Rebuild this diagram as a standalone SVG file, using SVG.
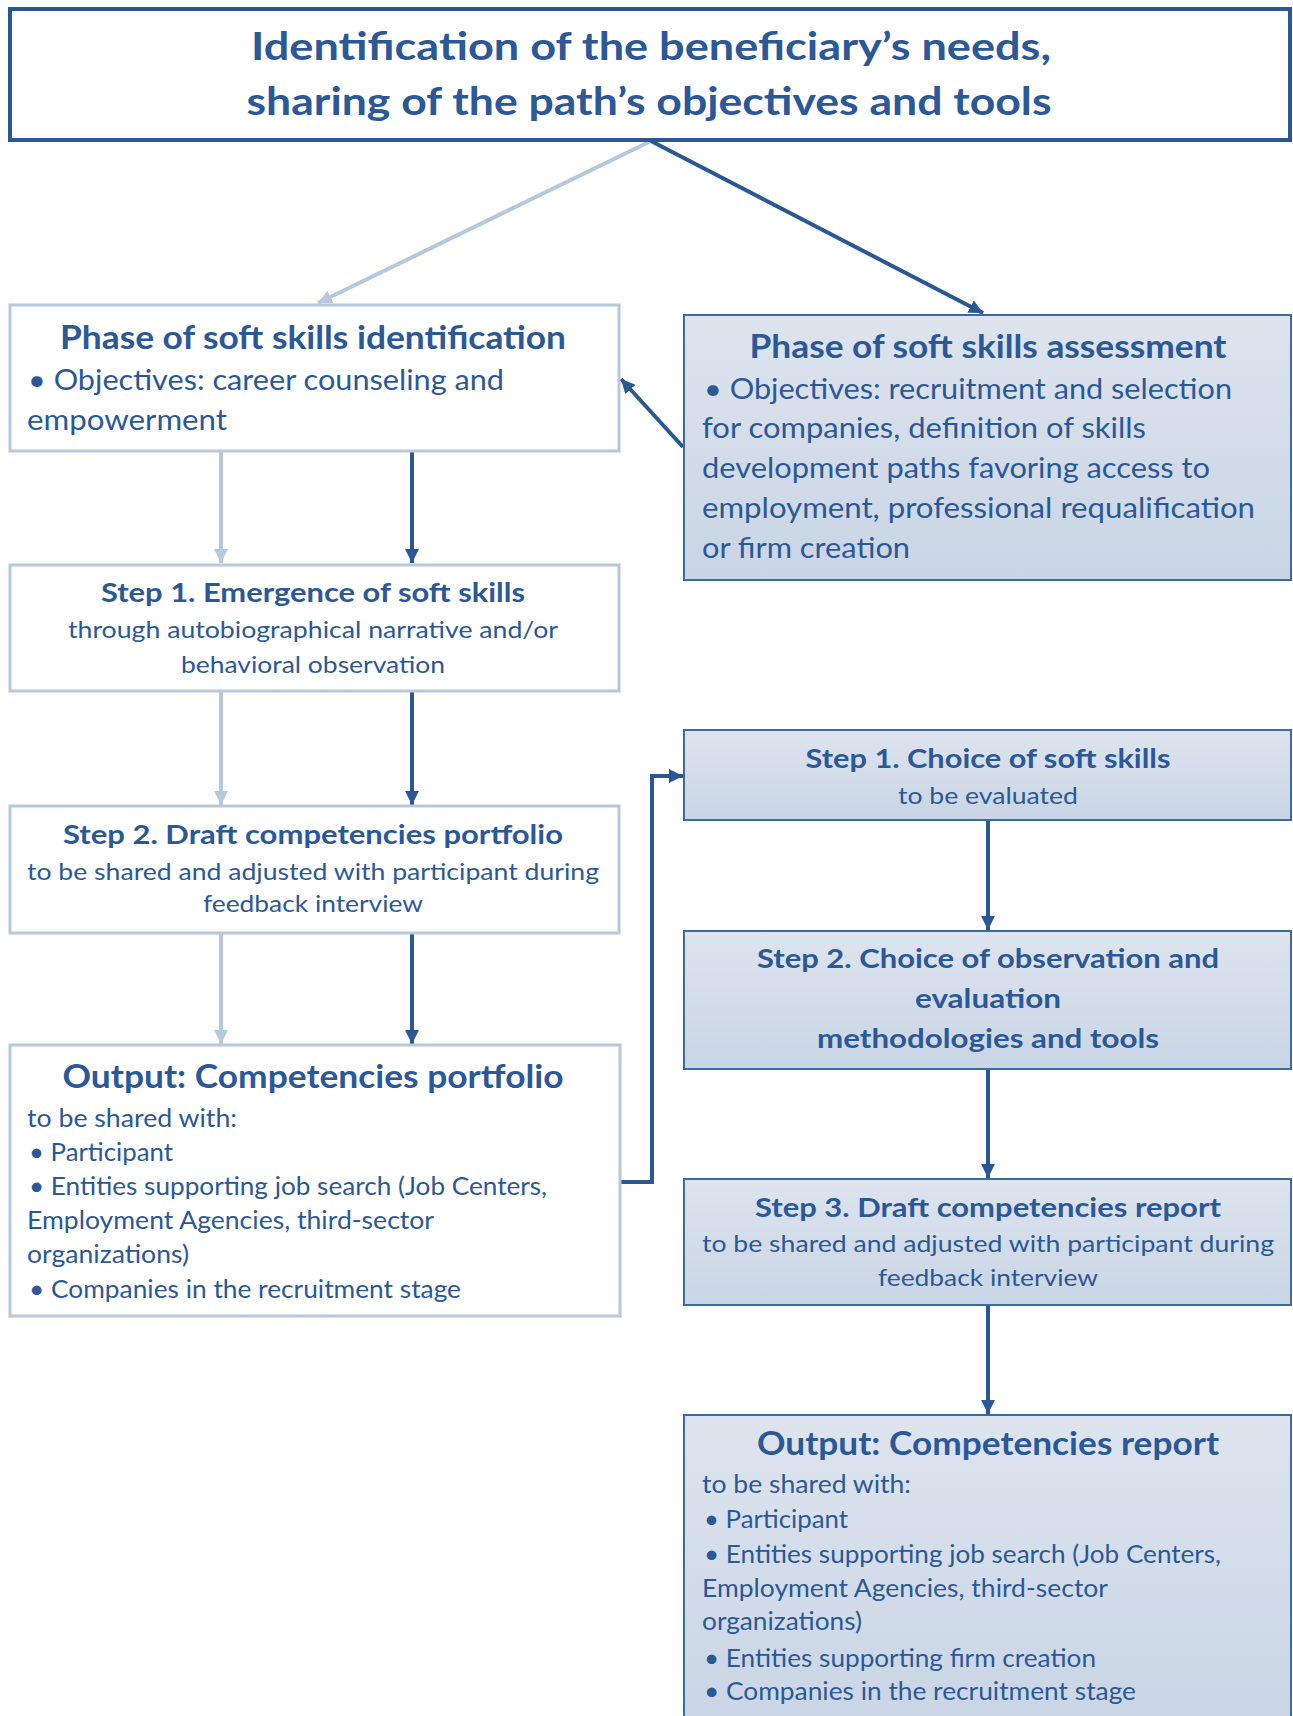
<svg xmlns="http://www.w3.org/2000/svg" width="1293" height="1716" viewBox="0 0 1293 1716">
<defs>
<linearGradient id="gr" x1="0" y1="0" x2="0" y2="1">
<stop offset="0" stop-color="#dde4ee"/>
<stop offset="1" stop-color="#c9d5e5"/>
</linearGradient>
<marker id="ad" viewBox="0 0 10 10" refX="10" refY="5" markerWidth="14" markerHeight="14" markerUnits="userSpaceOnUse" orient="auto">
<path d="M0,0 L10,5 L0,10 z" fill="#2b5893"/>
</marker>
<marker id="al" viewBox="0 0 10 10" refX="10" refY="5" markerWidth="14" markerHeight="14" markerUnits="userSpaceOnUse" orient="auto">
<path d="M0,0 L10,5 L0,10 z" fill="#b7c8dc"/>
</marker>
<style>
text{font-family:Lato,"Open Sans","Liberation Sans",sans-serif;fill:#2c5895}
.t{font-size:39px;font-weight:bold}
.h1{font-size:33px;font-weight:bold}
.h2{font-size:27px;font-weight:bold}
.ho{font-size:32px;font-weight:bold}
.b{font-size:28px}
.s{font-size:23px}
.o{font-size:25px}
.c{text-anchor:middle}
.wl{fill:#fff;stroke:#b7c8dc;stroke-width:3}
.bl{fill:url(#gr);stroke:#3e6aa2;stroke-width:2}
.dk{stroke:#2b5893;stroke-width:4;fill:none}
.lt{stroke:#b7c8dc;stroke-width:4;fill:none}
</style>
</defs>
<rect width="1293" height="1716" fill="#fff"/>

<g id="connectors">
<line class="lt" x1="651" y1="141" x2="318" y2="303" marker-end="url(#al)"/>
<line class="dk" x1="651" y1="141" x2="983" y2="313" marker-end="url(#ad)"/>
<line class="dk" x1="683" y1="447" x2="621" y2="379" marker-end="url(#ad)"/>
<line class="lt" x1="221" y1="452" x2="221" y2="563" marker-end="url(#al)"/>
<line class="dk" x1="412" y1="452" x2="412" y2="563" marker-end="url(#ad)"/>
<line class="lt" x1="221" y1="692" x2="221" y2="805" marker-end="url(#al)"/>
<line class="dk" x1="412" y1="692" x2="412" y2="805" marker-end="url(#ad)"/>
<line class="lt" x1="221" y1="934" x2="221" y2="1044" marker-end="url(#al)"/>
<line class="dk" x1="412" y1="934" x2="412" y2="1044" marker-end="url(#ad)"/>
<polyline class="dk" points="620,1182 652,1182 652,776 683,776" marker-end="url(#ad)"/>
<line class="dk" x1="988" y1="821" x2="988" y2="930" marker-end="url(#ad)"/>
<line class="dk" x1="988" y1="1070" x2="988" y2="1178" marker-end="url(#ad)"/>
<line class="dk" x1="988" y1="1306" x2="988" y2="1414" marker-end="url(#ad)"/>
</g>

<g id="node-top">
<rect x="10" y="9" width="1280" height="131" fill="#fff" stroke="#2b5893" stroke-width="4"/>
<text class="t c" x="651" y="60" textLength="800" lengthAdjust="spacingAndGlyphs">Identification of the beneficiary’s needs,</text>
<text class="t c" x="649" y="115" textLength="805" lengthAdjust="spacingAndGlyphs">sharing of the path’s objectives and tools</text>
</g>

<g id="node-phase-identification">
<rect class="wl" x="10" y="305" width="609" height="146"/>
<text class="h1 c" x="313" y="349" textLength="506" lengthAdjust="spacingAndGlyphs">Phase of soft skills identification</text>
<text class="b" x="28" y="390" textLength="476" lengthAdjust="spacingAndGlyphs">• Objectives: career counseling and</text>
<text class="b" x="27" y="430" textLength="200" lengthAdjust="spacingAndGlyphs">empowerment</text>
</g>

<g id="node-phase-assessment">
<rect class="bl" x="684" y="315" width="607" height="265" stroke-width="3"/>
<text class="h1 c" x="988" y="358" textLength="477" lengthAdjust="spacingAndGlyphs">Phase of soft skills assessment</text>
<text class="b" x="704" y="399" textLength="528" lengthAdjust="spacingAndGlyphs">• Objectives: recruitment and selection</text>
<text class="b" x="702" y="438" textLength="444" lengthAdjust="spacingAndGlyphs">for companies, definition of skills</text>
<text class="b" x="702" y="478" textLength="508" lengthAdjust="spacingAndGlyphs">development paths favoring access to</text>
<text class="b" x="702" y="518" textLength="553" lengthAdjust="spacingAndGlyphs">employment, professional requalification</text>
<text class="b" x="702" y="558" textLength="208" lengthAdjust="spacingAndGlyphs">or firm creation</text>
</g>

<g id="node-step1-emergence">
<rect class="wl" x="10" y="565" width="609" height="126"/>
<text class="h2 c" x="313" y="602" textLength="424" lengthAdjust="spacingAndGlyphs">Step 1. Emergence of soft skills</text>
<text class="s c" x="313" y="638" textLength="490" lengthAdjust="spacingAndGlyphs">through autobiographical narrative and/or</text>
<text class="s c" x="313" y="673" textLength="264" lengthAdjust="spacingAndGlyphs">behavioral observation</text>
</g>

<g id="node-step2-draft-portfolio">
<rect class="wl" x="10" y="806" width="609" height="127"/>
<text class="h2 c" x="313" y="844" textLength="500" lengthAdjust="spacingAndGlyphs">Step 2. Draft competencies portfolio</text>
<text class="s c" x="313" y="880" textLength="572" lengthAdjust="spacingAndGlyphs">to be shared and adjusted with participant during</text>
<text class="s c" x="313" y="912" textLength="220" lengthAdjust="spacingAndGlyphs">feedback interview</text>
</g>

<g id="node-output-portfolio">
<rect class="wl" x="10" y="1045" width="610" height="271"/>
<text class="ho c" x="313" y="1088" textLength="501" lengthAdjust="spacingAndGlyphs">Output: Competencies portfolio</text>
<text class="o" x="27" y="1127" textLength="210" lengthAdjust="spacingAndGlyphs">to be shared with:</text>
<text class="o" x="29" y="1161" textLength="144" lengthAdjust="spacingAndGlyphs">• Participant</text>
<text class="o" x="29" y="1195" textLength="518" lengthAdjust="spacingAndGlyphs">• Entities supporting job search (Job Centers,</text>
<text class="o" x="27" y="1229" textLength="407" lengthAdjust="spacingAndGlyphs">Employment Agencies, third-sector</text>
<text class="o" x="27" y="1263" textLength="162" lengthAdjust="spacingAndGlyphs">organizations)</text>
<text class="o" x="29" y="1298" textLength="432" lengthAdjust="spacingAndGlyphs">• Companies in the recruitment stage</text>
</g>

<g id="node-step1-choice">
<rect class="bl" x="684" y="730" width="607" height="90"/>
<text class="h2 c" x="988" y="768" textLength="365" lengthAdjust="spacingAndGlyphs">Step 1. Choice of soft skills</text>
<text class="s c" x="988" y="804" textLength="180" lengthAdjust="spacingAndGlyphs">to be evaluated</text>
</g>

<g id="node-step2-choice">
<rect class="bl" x="684" y="931" width="607" height="138"/>
<text class="h2 c" x="988" y="968" textLength="462" lengthAdjust="spacingAndGlyphs">Step 2. Choice of observation and</text>
<text class="h2 c" x="988" y="1008" textLength="146" lengthAdjust="spacingAndGlyphs">evaluation</text>
<text class="h2 c" x="988" y="1048" textLength="342" lengthAdjust="spacingAndGlyphs">methodologies and tools</text>
</g>

<g id="node-step3-draft-report">
<rect class="bl" x="684" y="1179" width="607" height="126"/>
<text class="h2 c" x="988" y="1217" textLength="466" lengthAdjust="spacingAndGlyphs">Step 3. Draft competencies report</text>
<text class="s c" x="988" y="1252" textLength="572" lengthAdjust="spacingAndGlyphs">to be shared and adjusted with participant during</text>
<text class="s c" x="988" y="1286" textLength="220" lengthAdjust="spacingAndGlyphs">feedback interview</text>
</g>

<g id="node-output-report">
<rect class="bl" x="684" y="1415" width="607" height="310"/>
<text class="ho c" x="988" y="1455" textLength="462" lengthAdjust="spacingAndGlyphs">Output: Competencies report</text>
<text class="o" x="702" y="1493" textLength="209" lengthAdjust="spacingAndGlyphs">to be shared with:</text>
<text class="o" x="704" y="1528" textLength="144" lengthAdjust="spacingAndGlyphs">• Participant</text>
<text class="o" x="704" y="1563" textLength="517" lengthAdjust="spacingAndGlyphs">• Entities supporting job search (Job Centers,</text>
<text class="o" x="702" y="1597" textLength="406" lengthAdjust="spacingAndGlyphs">Employment Agencies, third-sector</text>
<text class="o" x="702" y="1630" textLength="160" lengthAdjust="spacingAndGlyphs">organizations)</text>
<text class="o" x="704" y="1667" textLength="392" lengthAdjust="spacingAndGlyphs">• Entities supporting firm creation</text>
<text class="o" x="704" y="1700" textLength="432" lengthAdjust="spacingAndGlyphs">• Companies in the recruitment stage</text>
</g>
</svg>
